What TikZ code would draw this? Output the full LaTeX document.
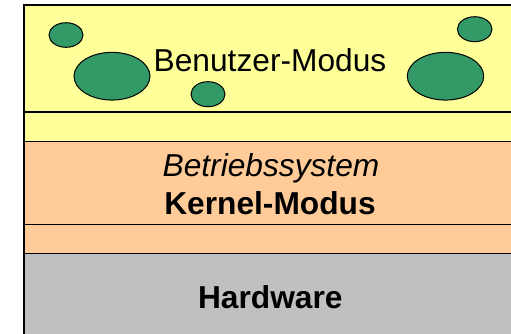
\documentclass[tikz,border=0pt]{standalone}
\usepackage{fontspec}
\setmainfont{Liberation Sans}
\usetikzlibrary{shapes.geometric}
\definecolor{userbg}{HTML}{FFFF99}
\definecolor{kernelbg}{HTML}{FFCC99}
\definecolor{hwbg}{HTML}{C0C0C0}
\definecolor{procfill}{HTML}{339966}
\tikzset{
  layer/.style={draw=black, line width=1.3pt},
  divider/.style={draw=black, line width=1.3pt},
  proc/.style={ellipse, draw=black, line width=1pt, fill=procfill, inner sep=0pt},
  label/.style={anchor=base, inner sep=0pt, font=\fontsize{31.7}{38}\selectfont},
}
\begin{document}
\begin{tikzpicture}[x=1pt, y=-1pt]
  \useasboundingbox (0,0) rectangle (511,333);
  \clip (0,0) rectangle (511,333);
  % layers
  \path[layer, fill=userbg] (24,5) rectangle (530,141.7);
  \path[layer, fill=kernelbg] (24,141.7) rectangle (530,253.8);
  \path[layer, fill=hwbg] (24,253.8) rectangle (530,350);
  \draw[divider] (24,112) -- (530,112);
  \draw[divider] (24,224.2) -- (530,224.2);
  % user-mode processes
  \node[proc, minimum width=34pt, minimum height=24.6pt] (p1) at (66,35) {};
  \node[proc, minimum width=76pt, minimum height=47.7pt] (p2) at (112,76.2) {};
  \node[proc, minimum width=34pt, minimum height=25pt] (p3) at (208,94.2) {};
  \node[proc, minimum width=34.6pt, minimum height=25pt] (p4) at (474.7,29.2) {};
  \node[proc, minimum width=76.4pt, minimum height=47.7pt] (p5) at (445.5,76.2) {};
  % labels
  \node[label] (user) at (270,71) {Benutzer-Modus};
  \node[label, font=\fontsize{31.7}{38}\selectfont\itshape] (os) at (271,176.3) {Betriebssystem};
  \node[label, font=\fontsize{31.7}{38}\selectfont\bfseries] (kernel) at (270,214) {Kernel-Modus};
  \node[label, font=\fontsize{31.7}{38}\selectfont\bfseries] (hw) at (270.3,308.2) {Hardware};
\end{tikzpicture}
\end{document}
